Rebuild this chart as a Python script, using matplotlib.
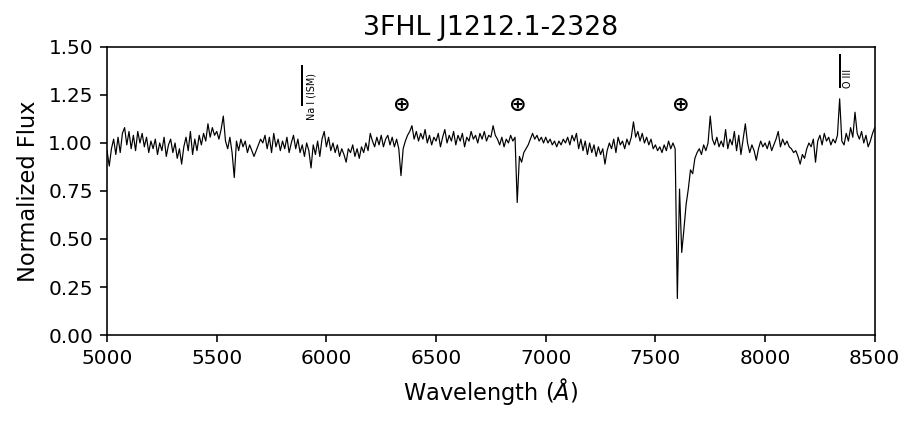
import numpy as np
import matplotlib
matplotlib.use("Agg")
import matplotlib.pyplot as plt

wavelength = np.arange(5000, 8501, 10)

flux_5000 = [0.96, 0.88, 0.97, 1.02, 0.94, 1.03, 0.95, 1.05, 1.08, 0.99,
             1.06, 0.97, 1.04, 0.96, 1.06, 1.00, 1.05, 0.98, 1.03, 0.95,
             1.01, 0.97, 1.02, 0.94, 1.00, 0.96, 1.03, 0.93, 0.99, 1.02,
             0.95, 1.00, 0.92, 0.97, 0.89, 0.98, 1.03, 0.96, 1.06, 0.94,
             1.02, 0.96, 1.04, 0.99, 1.05, 1.01, 1.10, 1.03, 1.08, 1.04]
flux_5500 = [1.06, 1.02, 1.07, 1.14, 1.01, 0.97, 1.03, 0.95, 0.82, 1.01,
             0.96, 1.02, 0.98, 1.01, 0.95, 0.99, 0.96, 0.93, 0.96, 0.99,
             1.02, 1.00, 1.04, 0.97, 1.03, 0.95, 1.05, 0.98, 1.02, 0.96,
             1.01, 0.97, 1.03, 0.95, 1.00, 1.04, 0.97, 1.02, 0.95, 0.99,
             0.93, 1.00, 0.96, 0.87, 0.99, 0.94, 1.01, 0.93, 1.02, 1.06]
flux_6000 = [0.98, 1.03, 0.96, 1.00, 0.95, 0.99, 0.93, 0.97, 0.94, 0.90,
             0.97, 0.95, 0.99, 0.93, 0.97, 0.92, 0.98, 0.95, 1.00, 0.96,
             1.05, 1.01, 0.98, 1.03, 0.99, 1.04, 0.98, 1.02, 1.04, 0.99,
             1.03, 0.98, 1.02, 0.97, 0.83, 0.97, 1.01, 1.04, 1.06, 1.09,
             1.02, 1.06, 1.01, 1.05, 1.02, 1.07, 1.00, 1.04, 0.99, 1.03]
flux_6500 = [1.01, 1.05, 0.98, 1.03, 1.07, 1.00, 1.04, 1.01, 1.06, 0.99,
             1.04, 1.01, 1.05, 0.98, 1.03, 1.01, 1.06, 1.02, 1.04, 1.00,
             1.05, 1.02, 1.06, 1.01, 1.04, 1.03, 1.09, 1.04, 1.02, 0.99,
             1.03, 0.98, 1.02, 1.00, 1.04, 1.01, 1.03, 0.69, 0.93, 0.90,
             0.95, 0.97, 0.99, 1.02, 1.05, 1.02, 1.04, 1.01, 1.03, 1.00]
flux_7000 = [1.03, 1.00, 1.02, 0.99, 1.01, 0.98, 1.01, 0.99, 1.02, 1.00,
             1.03, 0.99, 1.04, 1.01, 1.05, 0.97, 1.02, 0.96, 1.01, 0.94,
             1.00, 0.95, 0.99, 0.93, 0.98, 0.94, 0.97, 0.89, 0.96, 1.00,
             0.97, 1.02, 0.95, 1.03, 0.99, 1.01, 0.97, 1.02, 0.99, 1.03,
             1.11, 1.03, 1.06, 1.01, 1.05, 1.00, 1.03, 0.99, 1.02, 0.97]
flux_7500 = [0.99, 0.96, 0.98, 0.95, 0.99, 0.96, 1.01, 0.97, 1.00, 0.97,
             0.19, 0.76, 0.43, 0.55, 0.68, 0.76, 0.86, 0.84, 0.92, 0.95,
             0.97, 0.94, 0.99, 0.96, 1.00, 1.14, 1.02, 0.99, 1.03, 0.98,
             1.01, 0.98, 1.07, 0.97, 1.02, 0.99, 1.06, 0.96, 1.04, 0.94,
             1.02, 1.10, 1.00, 0.95, 0.99, 0.96, 0.91, 0.97, 1.01, 0.98]
flux_8000 = [1.00, 0.97, 1.01, 0.96, 0.99, 1.02, 1.06, 0.98, 1.02, 0.99,
             1.01, 0.98, 0.97, 0.95, 0.96, 0.93, 0.89, 0.94, 0.92, 0.97,
             1.00, 0.98, 1.02, 0.90, 1.01, 1.04, 0.99, 1.05, 1.01, 1.03,
             0.99, 1.02, 1.00, 1.04, 1.23, 1.01, 0.99, 1.05, 1.01, 1.08,
             1.03, 1.16, 1.05, 1.02, 1.06, 1.00, 1.04, 0.98, 1.01, 1.05,
             1.08]

flux = np.array(flux_5000 + flux_5500 + flux_6000 + flux_6500 +
                flux_7000 + flux_7500 + flux_8000)

telluric_wl = [6340, 6870, 7610]
title = "3FHL J1212.1-2328"

DPI = 144
fig = plt.figure(figsize=(915 / DPI, 423 / DPI), dpi=DPI)
ax = fig.add_axes([0.117, 0.208, 0.839, 0.681])
ax.plot(wavelength, flux, color="black", lw=0.6)
ax.set_xlim(5000, 8500)
ax.set_ylim(0, 1.5)
ax.set_xticks(np.arange(5000, 8501, 500))
ax.set_yticks(np.arange(0, 1.51, 0.25))
ax.yaxis.set_major_formatter(matplotlib.ticker.FormatStrFormatter("%.2f"))
ax.tick_params(labelsize=10)
ax.set_xlabel(r"Wavelength ($\AA$)", fontsize=11.25)
ax.set_ylabel("Normalized Flux", fontsize=11.25)
ax.set_title(title, fontsize=13.4)

# Na I (ISM)
ax.plot([5890, 5890], [1.20, 1.40], color="black", lw=1.0)
ax.text(5932, 1.12, "Na I (ISM)", rotation=90, fontsize=4.8, ha="center", va="bottom")
# O III
ax.plot([8340, 8340], [1.29, 1.46], color="black", lw=1.0)
ax.text(8378, 1.285, "O III", rotation=90, fontsize=4.8, ha="center", va="bottom")

for w in telluric_wl:
    ax.text(w, 1.20, "\u2295", fontsize=10.5, fontweight="bold", ha="center", va="center")

fig.savefig("out.png", dpi=DPI)
